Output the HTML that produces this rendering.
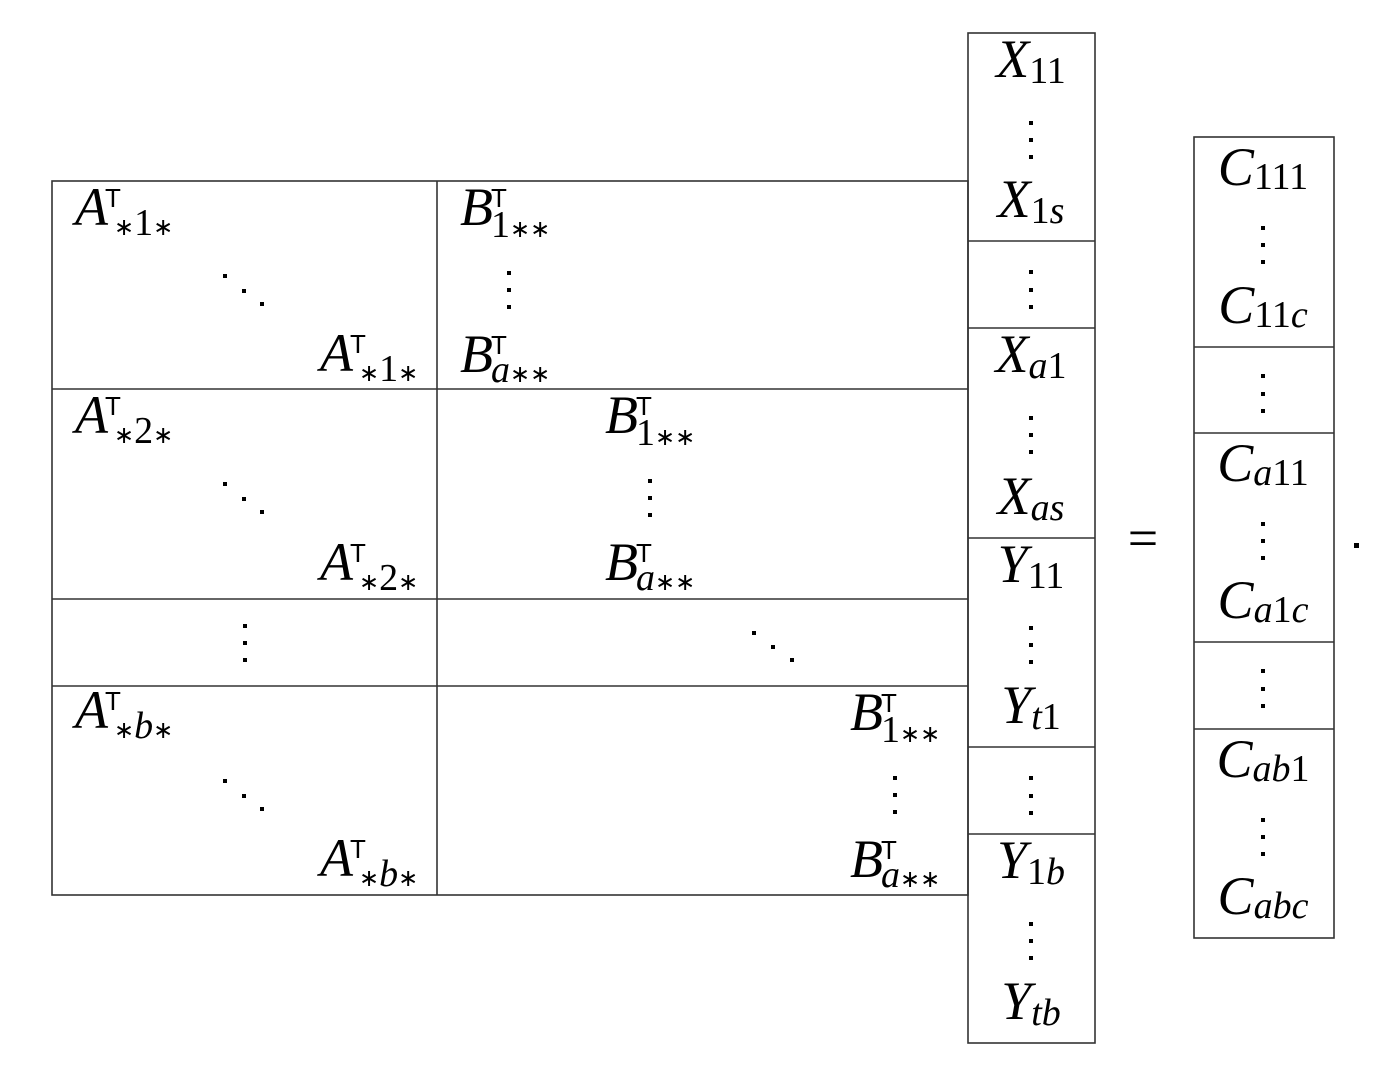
<!DOCTYPE html>
<html><head><meta charset="utf-8"><style>
html,body{margin:0;padding:0;background:#fff;}
svg{display:block;}
.m{font-family:"Liberation Serif",serif;font-style:italic;font-size:54px;fill:#000;}
.s{font-size:38px;}
.u{font-style:normal;}
.a{font-family:"DejaVu Sans",sans-serif;font-style:normal;font-size:24px;}
.t{font-family:"Liberation Sans","DejaVu Sans",sans-serif;font-style:normal;font-size:26px;}
</style></head><body>
<svg width="1394" height="1082" viewBox="0 0 1394 1082" xmlns="http://www.w3.org/2000/svg">
<g stroke="#333" stroke-width="1.6" fill="none">
<rect x="52" y="181" width="916" height="714"/>
<line x1="437" y1="181" x2="437" y2="895"/>
<line x1="52" y1="389" x2="968" y2="389"/>
<line x1="52" y1="599" x2="968" y2="599"/>
<line x1="52" y1="686" x2="968" y2="686"/>
<rect x="968" y="33" width="127" height="1010"/>
<line x1="968" y1="241" x2="1095" y2="241"/>
<line x1="968" y1="328" x2="1095" y2="328"/>
<line x1="968" y1="538" x2="1095" y2="538"/>
<line x1="968" y1="747" x2="1095" y2="747"/>
<line x1="968" y1="834" x2="1095" y2="834"/>
<rect x="1194" y="137" width="140" height="801"/>
<line x1="1194" y1="347" x2="1334" y2="347"/>
<line x1="1194" y1="433" x2="1334" y2="433"/>
<line x1="1194" y1="642" x2="1334" y2="642"/>
<line x1="1194" y1="729" x2="1334" y2="729"/>
</g>
<g class="m">
<text x="75" y="225">A<tspan class="t" x="105" y="207">T</tspan><tspan x="114" y="235"><tspan class="a">∗</tspan><tspan class="s u">1</tspan><tspan class="a">∗</tspan></tspan></text>
<text x="320" y="371">A<tspan class="t" x="350" y="353">T</tspan><tspan x="359" y="381"><tspan class="a">∗</tspan><tspan class="s u">1</tspan><tspan class="a">∗</tspan></tspan></text>
<text x="75" y="433">A<tspan class="t" x="105" y="415">T</tspan><tspan x="114" y="443"><tspan class="a">∗</tspan><tspan class="s u">2</tspan><tspan class="a">∗</tspan></tspan></text>
<text x="320" y="580">A<tspan class="t" x="350" y="562">T</tspan><tspan x="359" y="590"><tspan class="a">∗</tspan><tspan class="s u">2</tspan><tspan class="a">∗</tspan></tspan></text>
<text x="75" y="728">A<tspan class="t" x="105" y="710">T</tspan><tspan x="114" y="738"><tspan class="a">∗</tspan><tspan class="s">b</tspan><tspan class="a">∗</tspan></tspan></text>
<text x="320" y="876">A<tspan class="t" x="350" y="858">T</tspan><tspan x="359" y="886"><tspan class="a">∗</tspan><tspan class="s">b</tspan><tspan class="a">∗</tspan></tspan></text>

<text x="460" y="225">B<tspan class="t" x="491" y="207">T</tspan><tspan x="491" y="237"><tspan class="s u">1</tspan><tspan class="a">∗∗</tspan></tspan></text>
<text x="460" y="372">B<tspan class="t" x="491" y="354">T</tspan><tspan x="491" y="382"><tspan class="s">a</tspan><tspan class="a">∗∗</tspan></tspan></text>
<text x="605" y="433">B<tspan class="t" x="636" y="415">T</tspan><tspan x="636" y="445"><tspan class="s u">1</tspan><tspan class="a">∗∗</tspan></tspan></text>
<text x="605" y="580">B<tspan class="t" x="636" y="562">T</tspan><tspan x="636" y="590"><tspan class="s">a</tspan><tspan class="a">∗∗</tspan></tspan></text>
<text x="850" y="730">B<tspan class="t" x="881" y="712">T</tspan><tspan x="881" y="742"><tspan class="s u">1</tspan><tspan class="a">∗∗</tspan></tspan></text>
<text x="850" y="877">B<tspan class="t" x="881" y="859">T</tspan><tspan x="881" y="887"><tspan class="s">a</tspan><tspan class="a">∗∗</tspan></tspan></text>
</g>
<g class="m" text-anchor="middle">
<text x="1031" y="77">X<tspan class="s u" dy="6">11</tspan></text>
<text x="1031" y="217">X<tspan class="s u" dy="6">1</tspan><tspan class="s">s</tspan></text>
<text x="1031" y="372">X<tspan class="s" dy="6">a</tspan><tspan class="s u">1</tspan></text>
<text x="1031" y="514">X<tspan class="s" dy="6">as</tspan></text>
<text x="1031" y="582">Y<tspan class="s u" dy="6">11</tspan></text>
<text x="1031" y="723">Y<tspan class="s" dy="6">t</tspan><tspan class="s u">1</tspan></text>
<text x="1031" y="878">Y<tspan class="s u" dy="6">1</tspan><tspan class="s">b</tspan></text>
<text x="1031" y="1019">Y<tspan class="s" dy="6">tb</tspan></text>
<text x="1263" y="185">C<tspan class="s u" dy="4">111</tspan></text>
<text x="1263" y="323">C<tspan class="s u" dy="4">11</tspan><tspan class="s">c</tspan></text>
<text x="1263" y="481">C<tspan class="s" dy="4">a</tspan><tspan class="s u">11</tspan></text>
<text x="1263" y="618">C<tspan class="s" dy="4">a</tspan><tspan class="s u">1</tspan><tspan class="s">c</tspan></text>
<text x="1263" y="777">C<tspan class="s" dy="4">ab</tspan><tspan class="s u">1</tspan></text>
<text x="1263" y="914">C<tspan class="s" dy="4">abc</tspan></text>
<text x="1143" y="556" class="u">=</text>
</g>
<g fill="#000">
<rect x="507" y="271" width="4" height="4"/><rect x="507" y="288" width="4" height="4"/><rect x="507" y="305" width="4" height="4"/>
<rect x="648" y="479" width="4" height="4"/><rect x="648" y="496" width="4" height="4"/><rect x="648" y="513" width="4" height="4"/>
<rect x="893" y="776" width="4" height="4"/><rect x="893" y="793" width="4" height="4"/><rect x="893" y="810" width="4" height="4"/>
<rect x="243" y="624" width="4" height="4"/><rect x="243" y="641" width="4" height="4"/><rect x="243" y="658" width="4" height="4"/>
<rect x="223" y="274" width="4" height="4"/><rect x="242" y="289" width="4" height="4"/><rect x="260" y="302" width="4" height="4"/>
<rect x="223" y="482" width="4" height="4"/><rect x="242" y="497" width="4" height="4"/><rect x="260" y="510" width="4" height="4"/>
<rect x="223" y="779" width="4" height="4"/><rect x="242" y="794" width="4" height="4"/><rect x="260" y="807" width="4" height="4"/>
<rect x="752" y="631" width="4" height="4"/><rect x="771" y="645" width="4" height="4"/><rect x="790" y="658" width="4" height="4"/>
<rect x="1029" y="121" width="4" height="4"/><rect x="1029" y="138" width="4" height="4"/><rect x="1029" y="155" width="4" height="4"/>
<rect x="1029" y="270" width="4" height="4"/><rect x="1029" y="288" width="4" height="4"/><rect x="1029" y="305" width="4" height="4"/>
<rect x="1029" y="416" width="4" height="4"/><rect x="1029" y="433" width="4" height="4"/><rect x="1029" y="450" width="4" height="4"/>
<rect x="1029" y="626" width="4" height="4"/><rect x="1029" y="643" width="4" height="4"/><rect x="1029" y="660" width="4" height="4"/>
<rect x="1029" y="776" width="4" height="4"/><rect x="1029" y="794" width="4" height="4"/><rect x="1029" y="811" width="4" height="4"/>
<rect x="1029" y="922" width="4" height="4"/><rect x="1029" y="939" width="4" height="4"/><rect x="1029" y="956" width="4" height="4"/>
<rect x="1261" y="226" width="4" height="4"/><rect x="1261" y="243" width="4" height="4"/><rect x="1261" y="260" width="4" height="4"/>
<rect x="1261" y="374" width="4" height="4"/><rect x="1261" y="392" width="4" height="4"/><rect x="1261" y="409" width="4" height="4"/>
<rect x="1261" y="522" width="4" height="4"/><rect x="1261" y="539" width="4" height="4"/><rect x="1261" y="556" width="4" height="4"/>
<rect x="1261" y="669" width="4" height="4"/><rect x="1261" y="687" width="4" height="4"/><rect x="1261" y="704" width="4" height="4"/>
<rect x="1261" y="818" width="4" height="4"/><rect x="1261" y="835" width="4" height="4"/><rect x="1261" y="852" width="4" height="4"/>
<rect x="1354" y="543" width="5" height="5"/>
</g>
</svg>
</body></html>
